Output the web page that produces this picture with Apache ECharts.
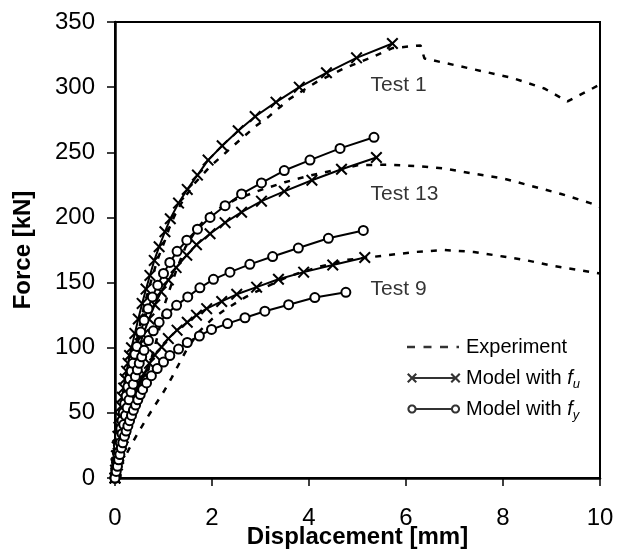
<!DOCTYPE html>
<html>
<head>
<meta charset="utf-8">
<script src="https://cdn.jsdelivr.net/npm/echarts@6/dist/echarts.min.js"></script>
<style>
  html, body { margin: 0; padding: 0; background: #fff; }
  #chart { width: 619px; height: 551px; }
</style>
</head>
<body>
<div id="chart"></div>
<script>
// Experiment curves (displacement mm, force kN)
var expTest1 = [[0,0],[0.08,24],[0.17,47],[0.27,70],[0.38,92],[0.5,115],[0.62,135],[0.75,152],[0.88,168],
  [1.03,182.5],[1.13,193],[1.28,205.5],[1.46,216.5],[1.65,226.5],[1.96,239],[2.41,254],[2.9,270],[3.16,277],
  [3.6,291],[4.16,304],[4.7,314],[5.3,323],[5.72,330],[6.0,331],[6.3,332],[6.38,322],[7.3,314.5],[8.2,307],
  [8.85,299],[9.33,289],[10,302]];
var expTest13 = [[0,0],[0.3,35],[0.5,60],[0.7,85],[0.85,105],[0.95,120],[1.03,134],[1.13,145],[1.27,160],
  [1.45,177],[1.7,192],[2.0,204],[2.5,214],[3.0,221],[3.5,227],[4.0,232],[4.5,236],[5.0,240],[5.6,240.5],
  [6.2,239.5],[6.8,237.5],[7.4,233.5],[8.0,230],[8.6,224],[9.2,218],[9.8,211],[10,208]];
var expTest9 = [[0,0],[0.15,12],[0.3,23],[0.48,35],[0.65,45.5],[0.82,55.5],[1.0,66],[1.17,77],[1.34,89],
  [1.5,100],[1.75,113],[2.0,122],[2.3,130],[2.7,139],[3.1,146.5],[3.6,155],[4.2,162],[4.8,167.5],[5.5,170.5],
  [6.2,173.5],[6.8,175],[7.4,173.5],[8.0,170],[8.5,167],[9.0,163],[9.5,160],[10,157]];

// Model with fu (cross markers)
var fuTest1 = [[0,0],[0.01,6],[0.02,11],[0.03,17],[0.045,24],[0.06,32],[0.08,39],[0.1,47],[0.125,55],
  [0.15,62],[0.18,69],[0.21,76],[0.24,82],[0.27,88],[0.3,94],[0.34,100],[0.41,111],
  [0.48,122],[0.56,134],[0.64,145],[0.72,155.5],[0.81,167],[0.91,177.5],[1.03,189],[1.14,199],[1.31,211],
  [1.49,221.5],[1.7,232.5],[1.92,244],[2.21,255],[2.54,266.5],[2.89,277.5],[3.32,288.5],[3.8,300],[4.36,311],
  [4.98,322.5],[5.72,333.5]];
var fuTest13 = [[0,0],[0.02,6],[0.04,12],[0.065,19],[0.09,25],[0.12,33],[0.15,40],[0.185,48],[0.22,55],
  [0.26,63],[0.3,70],[0.34,77],[0.38,83],[0.425,90],[0.47,96],[0.52,103],[0.58,110],
  [0.7,122],[0.82,133],[0.95,143],[1.1,152],[1.26,161.5],[1.48,171],[1.68,179],[1.96,187.5],[2.27,196],
  [2.61,204],[3.02,212.5],[3.49,220],[4.06,228.5],[4.67,237],[5.39,246]];
var fuTest9 = [[0,0],[0.025,5],[0.05,10],[0.075,15],[0.1,20],[0.135,26],[0.17,31],[0.2,37],[0.24,42],
  [0.28,48],[0.32,53],[0.365,58],[0.41,63],[0.455,68],[0.5,72],[0.55,76],[0.6,80],
  [0.71,88],[0.82,94.5],[0.96,100.5],[1.1,107],[1.28,113.5],[1.49,119.5],[1.68,125],[1.89,130],[2.2,135.5],
  [2.51,141],[2.92,146.5],[3.37,152.5],[3.89,158],[4.49,163.5],[5.15,169.2]];

// Model with fy (circle markers)
var fyTest1 = [[0,0],[0.015,6],[0.03,12],[0.05,19],[0.07,25],[0.095,32],[0.12,38],[0.145,44],[0.17,50],
  [0.2,57],[0.23,63],[0.265,70],[0.3,76],[0.335,82],[0.37,88],[0.41,95],[0.45,101],
  [0.53,112],[0.6,121],[0.68,130],[0.77,139],[0.88,148],[1.0,157],[1.13,165.5],[1.28,174],[1.48,182.5],
  [1.7,191],[1.96,200],[2.27,209],[2.61,218],[3.02,226.5],[3.49,236],[4.02,244],[4.64,253],[5.34,261.5]];
var fyTest13 = [[0,0],[0.025,7],[0.05,13],[0.08,20],[0.11,27],[0.145,34],[0.18,41],[0.215,48],[0.25,54],
  [0.29,60],[0.33,66],[0.375,72],[0.42,78],[0.46,83],[0.5,88],[0.55,93],[0.6,98],
  [0.69,105.5],[0.79,113],[0.91,119.5],[1.07,126],[1.27,132.5],[1.5,139],[1.75,146],[2.03,152.5],[2.37,158],
  [2.78,164],[3.25,170],[3.78,176.5],[4.4,184],[5.12,190]];
var fyTest9 = [[0,0],[0.025,5],[0.05,9],[0.075,14],[0.1,18],[0.13,23],[0.16,27],[0.195,32],[0.23,36],
  [0.265,40],[0.3,44],[0.34,48],[0.38,52],[0.425,56],[0.47,60],[0.52,64],[0.57,68],
  [0.65,73],[0.75,78.5],[0.87,84],[1.0,89],[1.13,94],[1.31,99],[1.49,104],[1.74,109],[1.99,114],[2.32,118.5],
  [2.68,123],[3.09,128],[3.58,133],[4.12,138.5],[4.76,142.5]];

var testLabels = [[5.26, 301.5, 'Test 1'], [5.26, 217.8, 'Test 13'], [5.26, 145, 'Test 9']];

var font = 'Liberation Sans, Arial, sans-serif';

// filled X shape
function crossPath(cx, cy, r, w) {
  var p = [[cx-r,cy-r+w],[cx-r+w,cy-r],[cx,cy-w],[cx+r-w,cy-r],[cx+r,cy-r+w],[cx+w,cy],
           [cx+r,cy+r-w],[cx+r-w,cy+r],[cx,cy+w],[cx-r+w,cy+r],[cx-r,cy+r-w],[cx-w,cy]];
  return 'M' + p.map(function (q) { return q[0].toFixed(2) + ',' + q[1].toFixed(2); }).join(' L') + ' Z ';
}
function rect(x0, y0, x1, y1) {
  return 'M' + x0 + ',' + y0 + ' L' + x1 + ',' + y0 + ' L' + x1 + ',' + y1 + ' L' + x0 + ',' + y1 + ' Z ';
}
// ring made of two opposite polygons
function ringPath(cx, cy, R, r) {
  var n = 24, outer = [], inner = [];
  for (var i = 0; i < n; i++) {
    var a = i / n * Math.PI * 2;
    outer.push((cx + R * Math.cos(a)).toFixed(2) + ',' + (cy + R * Math.sin(a)).toFixed(2));
    inner.push((cx + r * Math.cos(-a)).toFixed(2) + ',' + (cy + r * Math.sin(-a)).toFixed(2));
  }
  return 'M' + outer.join(' L') + ' Z M' + inner.join(' L') + ' Z ';
}

var crossSymbol = 'path://' + crossPath(5, 5, 5, 1.2);
var box = 'M0,0 M54,12 ';
var iconExp = 'path://' + box + rect(0,4.7,8,7.3) + rect(16.5,4.7,24.5,7.3) + rect(33,4.7,41,7.3) + rect(49.5,4.7,52,7.3);
var iconFu = 'path://' + box + crossPath(5,6,5,1.5) + rect(6.5,5.1,46.5,6.9) + crossPath(48.5,6,5,1.5);
var iconFy = 'path://' + box + ringPath(5,6,4.6,2.5) + rect(9.5,5.1,44,6.9) + ringPath(48.5,6,4.6,2.5);

function expSeries(d) {
  return { name: 'Experiment', type: 'line', data: d, symbol: 'none', z: 2,
    lineStyle: { color: '#000', width: 2.5, type: [6, 8] } };
}
function fuSeries(d) {
  return { name: 'Model with fu', type: 'line', data: d, symbol: crossSymbol, symbolSize: 12, z: 3,
    lineStyle: { color: '#000', width: 2 }, itemStyle: { color: '#000', borderWidth: 0 } };
}
function fySeries(d) {
  return { name: 'Model with fy', type: 'line', data: d, symbol: 'emptyCircle', symbolSize: 9, z: 3,
    lineStyle: { color: '#000', width: 2 }, itemStyle: { color: '#000', borderWidth: 2 } };
}

var chart = echarts.init(document.getElementById('chart'));
chart.setOption({
  animation: false,
  backgroundColor: '#fff',
  grid: {
    left: 115, top: 22, width: 485, height: 456, outerBoundsMode: 'none', containLabel: false,
    show: true, borderColor: '#000', borderWidth: 2
  },
  legend: {
    orient: 'vertical', left: 407, top: 334, padding: 0, itemGap: 5,
    itemWidth: 54, itemHeight: 12, selectedMode: false,
    data: [
      { name: 'Experiment', icon: iconExp },
      { name: 'Model with fu', icon: iconFu },
      { name: 'Model with fy', icon: iconFy }
    ],
    formatter: function (n) {
      return n === 'Experiment' ? n : 'Model with {i|f}{s|' + n.slice(-1) + '}';
    },
    textStyle: {
      fontFamily: font, fontSize: 20, color: '#000', lineHeight: 26,
      rich: {
        i: { fontFamily: font, fontSize: 20, fontStyle: 'italic', color: '#000', lineHeight: 26 },
        s: { fontFamily: font, fontSize: 13, fontStyle: 'italic', color: '#000', lineHeight: 26, verticalAlign: 'bottom' }
      }
    }
  },
  xAxis: {
    type: 'value', min: 0, max: 10, interval: 2,
    name: 'Displacement [mm]', nameLocation: 'middle', nameGap: 47, nameMoveOverlap: false,
    nameTextStyle: { fontFamily: font, fontSize: 24, fontWeight: 'bold', color: '#000' },
    axisLine: { lineStyle: { color: '#000', width: 2.5 } },
    axisTick: { inside: false, length: 8, lineStyle: { color: '#000', width: 1.5 } },
    axisLabel: { margin: 28, fontFamily: font, fontSize: 24, color: '#000' },
    splitLine: { show: false }
  },
  yAxis: {
    type: 'value', min: 0, max: 350, interval: 50,
    name: 'Force [kN]', nameLocation: 'middle', nameGap: 80, nameRotate: 90, nameMoveOverlap: false,
    nameTextStyle: { fontFamily: font, fontSize: 24, fontWeight: 'bold', color: '#000' },
    axisLine: { lineStyle: { color: '#000', width: 2.5 } },
    axisTick: { inside: false, length: 8, lineStyle: { color: '#000', width: 1.5 } },
    axisLabel: { margin: 20, fontFamily: font, fontSize: 24, color: '#000' },
    splitLine: { show: false }
  },
  series: [
    { name: 'Experiment', type: 'scatter', data: [], itemStyle: { color: '#000' } },
    { name: 'Model with fu', type: 'scatter', data: [], itemStyle: { color: '#000' } },
    { name: 'Model with fy', type: 'scatter', data: [], itemStyle: { color: '#000' } },
    expSeries(expTest1), expSeries(expTest13), expSeries(expTest9),
    fuSeries(fuTest1), fuSeries(fuTest13), fuSeries(fuTest9),
    fySeries(fyTest1), fySeries(fyTest13), fySeries(fyTest9),
    {
      type: 'scatter', data: testLabels, symbolSize: 1, silent: true, z: 5,
      itemStyle: { color: 'rgba(0,0,0,0)' },
      label: {
        show: true, position: 'right', distance: 0, color: '#000', fontFamily: font, fontSize: 21,
        formatter: function (p) { return p.value[2]; }
      }
    }
  ]
});
</script>
</body>
</html>
